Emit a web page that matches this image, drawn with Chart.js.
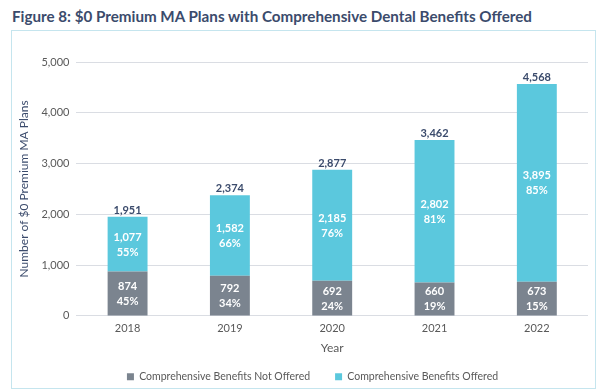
<!DOCTYPE html>
<html>
<head>
<meta charset="utf-8">
<script src="https://cdn.jsdelivr.net/npm/chart.js@4/dist/chart.umd.min.js"></script>
<style>
  html, body { margin: 0; padding: 0; background: #ffffff; }
  body { width: 600px; height: 390px; position: relative; overflow: hidden; font-family: Lato, "Open Sans", sans-serif; }
  #title { position: absolute; left: 12px; top: 7px; font-size: 15.2px; font-weight: bold; color: #3b4b6c; white-space: nowrap; }
  #box { position: absolute; left: 11px; top: 30px; width: 583px; height: 357px; border: 1.5px solid #c5e5ee; }
  #box canvas { display: block; }
</style>
</head>
<body>
<div id="title">Figure 8: $0 Premium MA Plans with Comprehensive Dental Benefits Offered</div>
<div id="box"><canvas id="c" width="583" height="357"></canvas></div>
<script>
const years = ["2018", "2019", "2020", "2021", "2022"];
const notOffered = [874, 792, 692, 660, 673];
const offered = [1077, 1582, 2185, 2802, 3895];
const notOfferedPct = ["45%", "34%", "24%", "19%", "15%"];
const offeredPct = ["55%", "66%", "76%", "81%", "85%"];
const totals = [1951, 2374, 2877, 3462, 4568];
const yTicks = [0, 1000, 2000, 3000, 4000, 5000];

const pctLabels = [notOfferedPct, offeredPct];
const fmt = v => v.toLocaleString("en-US");

const labelPlugin = {
  id: "barLabels",
  afterDatasetsDraw(chart) {
    const ctx = chart.ctx;
    ctx.save();
    ctx.textAlign = "center";
    ctx.textBaseline = "middle";
    chart.data.datasets.forEach((ds, di) => {
      const meta = chart.getDatasetMeta(di);
      meta.data.forEach((bar, i) => {
        const mid = (bar.y + bar.base) / 2;
        ctx.fillStyle = "#ffffff";
        ctx.font = "bold 11px Lato, sans-serif";
        ctx.fillText(fmt(ds.data[i]), bar.x, mid - 7);
        ctx.fillText(pctLabels[di][i], bar.x, mid + 8);
      });
    });
    const top = chart.getDatasetMeta(chart.data.datasets.length - 1);
    top.data.forEach((bar, i) => {
      ctx.fillStyle = "#3b4b6c";
      ctx.font = "bold 11px Lato, sans-serif";
      ctx.textBaseline = "bottom";
      ctx.fillText(fmt(totals[i]), bar.x, bar.y - 1);
    });
    ctx.restore();
  }
};

// Wide gap between legend items without a tall legend box
const LEGEND_TRIM = 23, LEGEND_LIFT = 19, LEGEND_SHIFT = 10;
const legendTrim = {
  id: "legendTrim",
  beforeLayout(chart) {
    const lg = chart.legend;
    if (lg && !lg._trimmed) {
      const fit = lg.fit.bind(lg);
      lg.fit = function () { fit(); this.height -= LEGEND_TRIM; };
      lg._trimmed = true;
    }
  },
  afterLayout(chart) {
    const lg = chart.legend;
    if (lg) {
      lg.top -= LEGEND_LIFT;
      lg.bottom = lg.top + 50;
      lg.height = 50;
      lg.left += LEGEND_SHIFT; lg.right += LEGEND_SHIFT;
    }
  }
};

new Chart(document.getElementById("c"), {
  type: "bar",
  data: {
    labels: years,
    datasets: [
      { label: "Comprehensive Benefits Not Offered", data: notOffered, backgroundColor: "#7b848f", barPercentage: 0.39, categoryPercentage: 1.0 },
      { label: "Comprehensive Benefits Offered", data: offered, backgroundColor: "#5bc8dd", barPercentage: 0.39, categoryPercentage: 1.0 }
    ]
  },
  options: {
    responsive: false,
    animation: false,
    layout: { padding: { left: 5, right: 7, top: 31, bottom: 0 } },
    plugins: {
      legend: {
        position: "bottom",
        labels: { boxWidth: 7, boxHeight: 7, padding: 25, color: "#595959", font: { family: "Lato", size: 10.5 } }
      },
      tooltip: { enabled: false }
    },
    scales: {
      x: {
        stacked: true,
        grid: { display: false, drawTicks: false },
        border: { display: false },
        ticks: { color: "#595959", padding: 6, font: { family: "Lato", size: 11 } },
        title: { display: true, text: "Year", color: "#595959", font: { family: "Lato", size: 12 }, padding: { top: 0, bottom: 10 } }
      },
      y: {
        stacked: true,
        min: 0,
        max: 5000,
        afterBuildTicks: axis => { axis.ticks = yTicks.map(v => ({ value: v })); },
        grid: { color: "#dadde3", drawTicks: false },
        border: { display: false },
        ticks: { color: "#595959", padding: 7, font: { family: "Lato", size: 11 }, callback: v => fmt(v) },
        title: { display: true, text: "Number of $0 Premium MA Plans", color: "#3b4b6c", font: { family: "Lato", size: 12 }, padding: { top: 0, bottom: 3 } }
      }
    }
  },
  plugins: [labelPlugin, legendTrim]
});
</script>
</body>
</html>
